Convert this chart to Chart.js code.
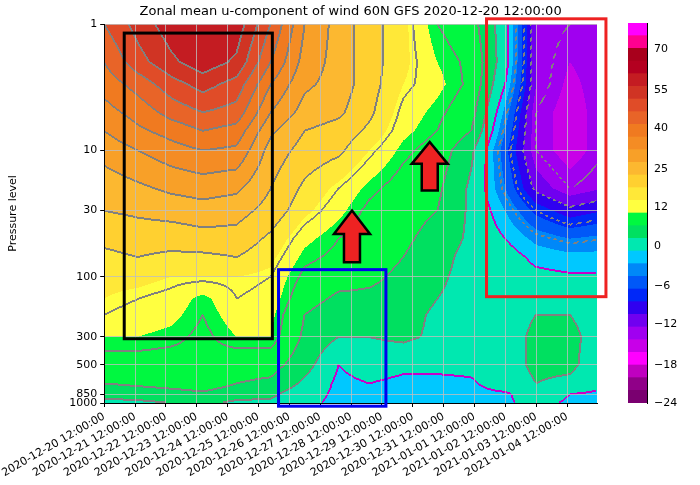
<!DOCTYPE html>
<html>
<head>
<meta charset="utf-8">
<script src="https://cdn.jsdelivr.net/npm/chart.js@4.4.0/dist/chart.umd.min.js"></script>
<style>
  body { margin: 0; background: #fff; }
  #wrap { position: relative; width: 700px; height: 485px; }
  #main { position: absolute; left: 0; top: 0; }
  #bar { position: absolute; left: 610px; top: 0; }
</style>
</head>
<body>
<div id="wrap">
  <canvas id="main" width="700" height="485"></canvas>
  <canvas id="bar" width="90" height="485"></canvas>
</div>
<script>
const TITLE = 'Zonal mean u-component of wind 60N GFS 2020-12-20 12:00:00';

// time axis: days since 2020-12-20 12:00
const tickDays = [0, 1, 2, 3, 4, 5, 6, 7, 8, 9, 10, 11, 12, 13, 14, 15];
const dayLabels = [
  '2020-12-20 12:00:00', '2020-12-21 12:00:00', '2020-12-22 12:00:00', '2020-12-23 12:00:00',
  '2020-12-24 12:00:00', '2020-12-25 12:00:00', '2020-12-26 12:00:00', '2020-12-27 12:00:00',
  '2020-12-28 12:00:00', '2020-12-29 12:00:00', '2020-12-30 12:00:00', '2020-12-31 12:00:00',
  '2021-01-01 12:00:00', '2021-01-02 12:00:00', '2021-01-03 12:00:00', '2021-01-04 12:00:00'
];
const xMax = 15.97;

// days at which the u columns below were read
const colDays = [0, 1.1, 2.2, 3.2, 4.3, 5.4, 6.5, 7.6, 8.6, 9.7, 10.8, 11.9, 13.0, 14.0, 15.1, 16.2];
const levels = [1, 2, 3, 5, 7, 10, 20, 30, 50, 70, 100, 150, 200, 300, 500, 700, 850, 1000];
const pressureTicks = [1, 10, 30, 100, 300, 500, 850, 1000];

// zonal mean u (m/s), one row per pressure level
const u1    = [55, 62, 68, 70, 68, 55, 40, 33, 27, 22, 15, 12,  2, -18, -20, -20];
const u2    = [50, 58, 64, 68, 64, 50, 38, 33, 27, 22, 17, 14,  2, -18, -22, -20];
const u3    = [47, 52, 58, 62, 58, 45, 36, 33, 27, 21, 18, 14,  0, -18, -23, -20];
const u5    = [43, 47, 52, 55, 53, 40, 33, 31, 26, 19, 16, 12, -4, -20, -24, -20];
const u7    = [40, 44, 47, 50, 48, 36, 30, 28, 24, 18, 15, 10, -6, -20, -24, -20];
const u10   = [37, 40, 43, 45, 44, 33, 28, 26, 21, 16, 13,  6, -8, -20, -24, -20];
const u20   = [32, 34, 36, 37, 36, 30, 24, 20, 16, 13, 11,  4, -6, -16, -20, -18];
const u30   = [30, 31, 32, 33, 32, 28, 22, 18, 14, 12, 10,  4, -3, -10, -14, -12];
const u50   = [26, 27, 27, 28, 28, 24, 18, 15, 13, 11,  8,  4,  0,  -4,  -6,  -5];
const u70   = [24, 25, 24, 24, 25, 22, 16, 14, 12, 10,  7,  3,  2,  -1,  -2,  -2];
const u100  = [22, 22, 21, 21, 21, 20, 14, 12, 11,  9,  6,  3,  2,   1, 0.5, 0.5];
const u150  = [21, 20, 19, 16, 20, 19, 12,  9,  9,  8,  5,  3,  3,   4,   4,   3];
const u200  = [20, 19, 18, 15, 19, 18, 10,  7,  7,  7,  4,  3,  3,   5,   5,   3];
const u300  = [17, 17, 16, 14, 17, 17,  9,  5,  5,  6,  4,  3,  3,   6,   6,   3];
const u500  = [13, 13, 13, 14, 12, 12,  7,  0,  2,  1,  1,  1,  3,   6,   6,   2];
const u700  = [10, 11, 12, 13, 10,  9,  4, -1,  0, -1, -1, -0.5, 2,  5,   4,   1];
const u850  = [ 6,  7,  8,  9,  7,  6,  2, -1,  0, -1, -1, -1, -0.5, 2,   0,  -1];
const u1000 = [ 4,  4,  5,  6,  4,  4,  1, -1, -1, -1, -1, -1, -0.5, 1, -0.5, -1];
const uRows = [u1, u2, u3, u5, u7, u10, u20, u30, u50, u70, u100, u150, u200, u300, u500, u700, u850, u1000];

// filled-contour levels and colours (bottom to top)
const bounds = [-40, -36, -32, -29, -26, -22, -18, -15, -12, -9, -6, -3, 0, 5, 10, 17, 21,
  25, 30, 35, 40, 45, 50, 55, 60, 65, 70, 75, 80, 85, 90];
const bandColors = ['#7a0070', '#900088', '#c000c0', '#ff00ff', '#c800e8', '#a000f0', '#7000f0',
  '#3000f0', '#0028f8', '#0058f8', '#0088f8', '#00c8ff', '#00e8b0', '#00e060', '#00f840',
  '#ffff40', '#ffe838', '#ffd030', '#fcb830', '#f8a028', '#f48c24', '#f07a20', '#e86428',
  '#e04c28', '#d03424', '#c41c22', '#b40020', '#a8001c', '#ff0090', '#ff00ff'];
const cbTickPos = [0, 3, 6.2, 9.2, 12.4, 15.5, 18.5, 21.7, 24.7, 27.9];
const cbTickLabels = ['\u221224', '\u221218', '\u221212', '\u22126', '0', '12', '25', '40', '55', '70'];

// annotation boxes: [day0, day1, pTop, pBottom, colour]
const boxes = [
  [0.65, 5.45, 1.18, 310, '#000000'],
  [5.65, 9.13, 88, 1060, '#0000ee'],
  [12.39, 16.26, 0.91, 144, '#ee2222']
];
// arrows: [day, pTip, pBase]
const arrows = [[8.03, 30, 77], [10.55, 8.6, 20.8]];

function hexRgb(h) {
  return [parseInt(h.slice(1, 3), 16), parseInt(h.slice(3, 5), 16), parseInt(h.slice(5, 7), 16)];
}
const bandRgb = bandColors.map(hexRgb);
const logLev = levels.map(p => Math.log10(p));

function sample(d, p) {
  const lp = Math.log10(p);
  let j = 0;
  while (j < logLev.length - 2 && lp > logLev[j + 1]) j++;
  const ty = Math.max(0, Math.min(1, (lp - logLev[j]) / (logLev[j + 1] - logLev[j])));
  let i = 0;
  while (i < colDays.length - 2 && d > colDays[i + 1]) i++;
  const tx = Math.max(0, Math.min(1, (d - colDays[i]) / (colDays[i + 1] - colDays[i])));
  const a = uRows[j][i] * (1 - tx) + uRows[j][i + 1] * tx;
  const b = uRows[j + 1][i] * (1 - tx) + uRows[j + 1][i + 1] * tx;
  return a * (1 - ty) + b * ty;
}
function band(v) {
  let k = 0;
  while (k < bounds.length - 2 && v >= bounds[k + 1]) k++;
  return k;
}

const fieldPlugin = {
  id: 'field',
  beforeDraw(chart) {
    const { ctx, chartArea: a, scales: { x, y } } = chart;
    const w = Math.round(a.right - a.left), h = Math.round(a.bottom - a.top);
    const img = ctx.createImageData(w, h);
    const vals = new Float32Array(w * h);
    for (let py = 0; py < h; py++) {
      const p = y.getValueForPixel(a.top + py + 0.5);
      for (let px = 0; px < w; px++) {
        const v = sample(x.getValueForPixel(a.left + px + 0.5), p);
        vals[py * w + px] = v;
        const c = bandRgb[band(v)];
        const o = (py * w + px) * 4;
        img.data[o] = c[0]; img.data[o + 1] = c[1]; img.data[o + 2] = c[2]; img.data[o + 3] = 255;
      }
    }
    const mark = (px, py, lvl) => {
      if (lvl < 0 && ((px + py) >> 2) % 2) return;
      const c = lvl === 0 ? [200, 0, 200] : [128, 128, 128];
      const o = (py * w + px) * 4;
      img.data[o] = c[0]; img.data[o + 1] = c[1]; img.data[o + 2] = c[2];
    };
    for (let py = 0; py < h - 1; py++) {
      for (let px = 0; px < w - 1; px++) {
        const k = Math.floor(vals[py * w + px] / 5);
        const kr = Math.floor(vals[py * w + px + 1] / 5);
        const kd = Math.floor(vals[(py + 1) * w + px] / 5);
        if (k !== kr) { const l = Math.max(k, kr) * 5; mark(px, py, l); mark(px + 1, py, l); }
        if (k !== kd) { const l = Math.max(k, kd) * 5; mark(px, py, l); mark(px, py + 1, l); }
      }
    }
    ctx.putImageData(img, Math.round(a.left), Math.round(a.top));
  },
  afterDraw(chart) {
    const { ctx, chartArea: a, scales: { x, y } } = chart;
    ctx.save();
    ctx.fillStyle = '#000';
    ctx.font = '13px "DejaVu Sans"';
    ctx.textAlign = 'center';
    ctx.textBaseline = 'middle';
    ctx.fillText(TITLE, (a.left + a.right) / 2, 12);
    ctx.lineWidth = 3;
    for (const [d0, d1, p0, p1, col] of boxes) {
      ctx.strokeStyle = col;
      ctx.strokeRect(x.getPixelForValue(d0), y.getPixelForValue(p0),
        x.getPixelForValue(d1) - x.getPixelForValue(d0), y.getPixelForValue(p1) - y.getPixelForValue(p0));
    }
    for (const [d, pt, pb] of arrows) {
      const cx = x.getPixelForValue(d), ty = y.getPixelForValue(pt), by = y.getPixelForValue(pb);
      const hw = 18, sw = 8, hy = ty + (by - ty) * 0.45;
      ctx.beginPath();
      ctx.moveTo(cx, ty);
      ctx.lineTo(cx + hw, hy); ctx.lineTo(cx + sw, hy); ctx.lineTo(cx + sw, by);
      ctx.lineTo(cx - sw, by); ctx.lineTo(cx - sw, hy); ctx.lineTo(cx - hw, hy);
      ctx.closePath();
      ctx.fillStyle = '#ee2222';
      ctx.fill();
      ctx.strokeStyle = '#000';
      ctx.lineWidth = 2.5;
      ctx.stroke();
    }
    ctx.restore();
  }
};

const tickFont = { family: 'DejaVu Sans', size: 11 };

new Chart(document.getElementById('main'), {
  type: 'scatter',
  data: { datasets: [{ data: [] }] },
  options: {
    responsive: false,
    animation: false,
    devicePixelRatio: 1,
    layout: { padding: { top: 24, right: 103, left: 0, bottom: 0 } },
    plugins: { legend: { display: false }, tooltip: { enabled: false } },
    scales: {
      x: {
        type: 'linear', min: 0, max: xMax,
        afterBuildTicks: s => { s.ticks = tickDays.map(v => ({ value: v })); },
        afterFit: s => { s.height = 82; },
        ticks: {
          color: '#000', font: tickFont, minRotation: 30, maxRotation: 30, autoSkip: false,
          callback: v => dayLabels[v]
        },
        grid: { color: 'rgba(190,190,190,0.8)', tickColor: '#000', tickLength: 4 },
        border: { color: '#000' }
      },
      y: {
        type: 'logarithmic', min: 1, max: 1000, reverse: true,
        afterBuildTicks: s => { s.ticks = pressureTicks.map(v => ({ value: v })); },
        afterFit: s => { s.width = 102; },
        ticks: { color: '#000', font: tickFont, autoSkip: false, callback: v => String(v) },
        title: { display: true, text: 'Pressure level', color: '#000', font: tickFont },
        grid: { color: 'rgba(190,190,190,0.8)', tickColor: '#000', tickLength: 4 },
        border: { color: '#000' }
      }
    }
  },
  plugins: [fieldPlugin]
});

new Chart(document.getElementById('bar'), {
  type: 'bar',
  data: {
    labels: [''],
    datasets: bandColors.map(c => ({ data: [1], backgroundColor: c, borderWidth: 0 }))
  },
  options: {
    responsive: false,
    animation: false,
    devicePixelRatio: 1,
    layout: { padding: { top: 23, bottom: 82, left: 18, right: 10 } },
    plugins: { legend: { display: false }, tooltip: { enabled: false } },
    datasets: { bar: { barPercentage: 1, categoryPercentage: 1 } },
    scales: {
      x: { stacked: true, display: false },
      y: {
        stacked: true, position: 'right', min: 0, max: bandColors.length,
        afterBuildTicks: s => { s.ticks = cbTickPos.map(v => ({ value: v })); },
        afterFit: s => { s.width = 43; },
        ticks: { color: '#000', font: tickFont, autoSkip: false, callback: (v, i) => cbTickLabels[i] },
        grid: { display: false, drawTicks: true, tickLength: 4 },
        border: { color: '#000' }
      }
    }
  }
});
</script>
</body>
</html>
